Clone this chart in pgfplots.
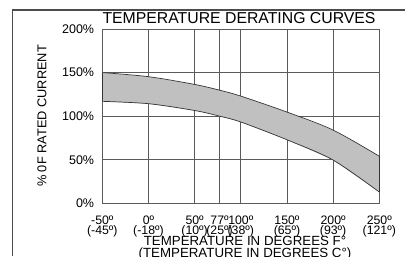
\documentclass[border=0pt]{standalone}
\usepackage{fontspec}
\setmainfont{Liberation Sans}
\usepackage{pgfplots}
\pgfplotsset{compat=1.18}
\definecolor{bandfill}{RGB}{192,192,192}
\definecolor{gridc}{RGB}{90,90,90}
\begin{document}
\begin{tikzpicture}
\useasboundingbox (0bp,0bp) rectangle (405bp,257bp);
\begin{axis}[
  at={(102.3bp,53.7bp)}, anchor=south west,
  scale only axis, width=277bp, height=174.3bp,
  xmin=-50, xmax=250, ymin=0, ymax=200,
  xtick={-50,0,50,77,100,150,200,250},
  xticklabels={{-50º\\(-45º)},{0º\\(-18º)},{50º\\(10º)},{77º\\(25º)},{100º\\(38º)},{150º\\(65º)},{200º\\(93º)},{250º\\(121º)}},
  ytick={0,50,100,150,200},
  yticklabels={0\%,50\%,100\%,150\%,200\%},
  xticklabel style={align=center, font=\fontsize{12.3bp}{9.6bp}\selectfont, inner sep=0pt, anchor=base, yshift=-31.2bp},
  yticklabel style={font=\fontsize{12.5bp}{14bp}\selectfont, inner sep=0pt, xshift=-8bp},
  major tick length=0pt,
  grid=major,
  major grid style={gridc, line width=0.8bp},
  axis line style={gridc, line width=0.9bp},
  clip=false,
]
\addplot[fill=bandfill, draw=none] coordinates {
  (-50,150) (0,145.3) (50,136.4) (77,129.8) (100,123) (150,104.7) (200,84) (250,54)
  (250,12.9) (200,49.6) (150,72.9) (100,93.3) (77,100) (50,106.5) (0,114.3) (-50,117)
} -- cycle;
\addplot[smooth, draw=black!80, line width=0.7bp] coordinates {
  (-50,150) (0,145.3) (50,136.4) (77,129.8) (100,123) (150,104.7) (200,84) (250,54)
};
\addplot[smooth, draw=black!80, line width=0.7bp] coordinates {
  (-50,117) (0,114.3) (50,106.5) (77,100) (100,93.3) (150,72.9) (200,49.6) (250,12.9)
};
\draw[black!80, line width=0.8bp] (axis cs:-50,117) -- (axis cs:-50,150);
\draw[black!80, line width=0.8bp] (axis cs:250,12.9) -- (axis cs:250,54);
\draw[line width=1.1bp, black!70] (rel axis cs:-0.3249,-0.305) -- (rel axis cs:-0.3249,1.109) -- (rel axis cs:1.092,1.109);
\end{axis}
\node[anchor=base west, inner sep=0pt, font=\fontsize{15.8bp}{18bp}\selectfont] at (102.3bp,233bp) {TEMPERATURE DERATING CURVES};
\node[anchor=base, inner sep=0pt, font=\fontsize{13.3bp}{14bp}\selectfont] at (245bp,12bp) {TEMPERATURE IN DEGREES F°};
\node[anchor=base, inner sep=0pt, font=\fontsize{13.3bp}{14bp}\selectfont] at (245bp,-0.8bp) {(TEMPERATURE IN DEGREES C°)};
\node[rotate=90, inner sep=0pt, font=\fontsize{12.8bp}{14bp}\selectfont] at (42bp,141bp) {\% 0F RATED CURRENT};
\end{tikzpicture}
\end{document}
